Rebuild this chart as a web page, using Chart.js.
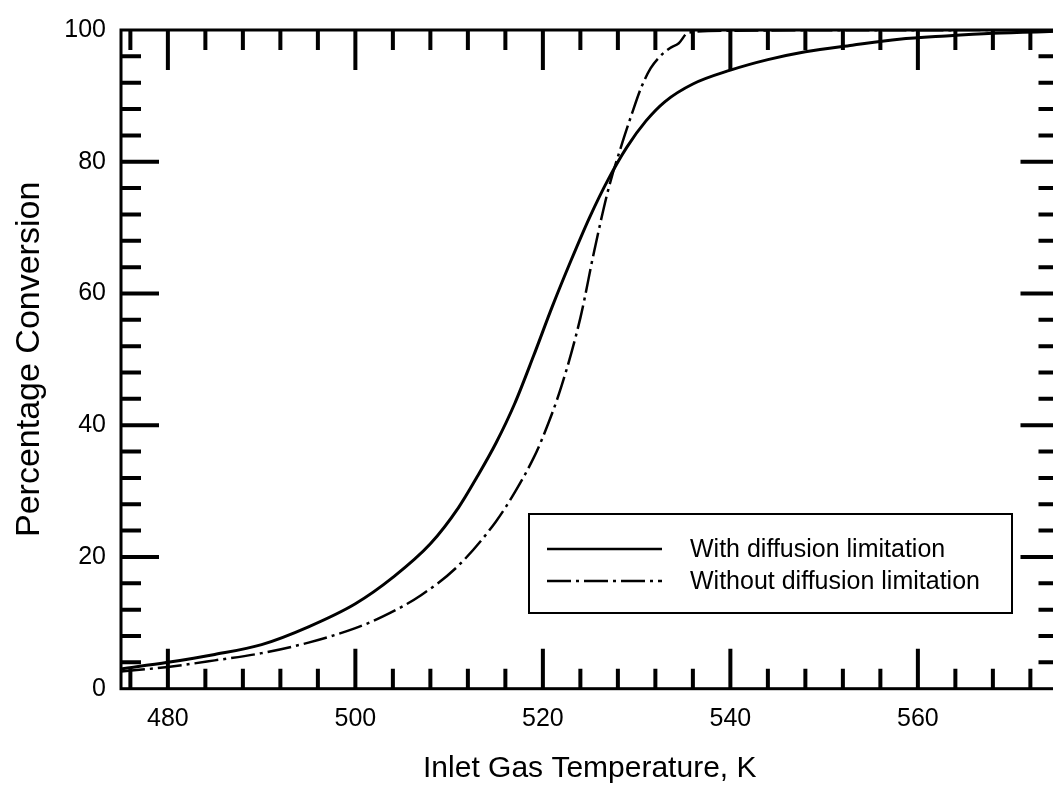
<!DOCTYPE html>
<html>
<head>
<meta charset="utf-8">
<title>Percentage Conversion vs Inlet Gas Temperature</title>
<script src="https://cdn.jsdelivr.net/npm/chart.js@4/dist/chart.umd.min.js"></script>
<style>
	html, body { margin: 0; padding: 0; background: #ffffff; overflow: hidden; }
	#chart-container { width: 1060px; height: 786px; }
</style>
</head>
<body>
<div id="chart-container">
	<canvas id="myChart" width="1060" height="786"></canvas>
</div>
<script>
// values
const tempWith = [475, 480, 485, 490, 495, 500, 504, 508, 511, 513, 515, 517, 519, 521, 523, 525, 527, 529, 531, 533, 536, 540, 544, 548, 553, 558, 563, 568, 575];
const convWith = [3.0, 4.0, 5.2, 6.7, 9.4, 12.9, 16.9, 22.0, 27.5, 32.2, 37.3, 43.3, 50.5, 58.0, 65.0, 71.6, 77.4, 82.3, 86.2, 89.1, 91.8, 93.9, 95.5, 96.7, 97.7, 98.6, 99.1, 99.5, 99.8];

const tempWithout = [475, 480, 485, 490, 495, 500, 503, 507, 511, 515, 517, 519, 520, 522, 524, 525.5, 527, 528.5, 529.5, 530.5, 531.5, 532.5, 533.5, 534.5, 535.5, 540, 575];
const convWithout = [2.6, 3.3, 4.3, 5.4, 7.0, 9.2, 11.0, 14.2, 18.7, 25.4, 29.8, 35.0, 38.2, 46.0, 56.3, 66.6, 75.9, 83.0, 87.3, 91.3, 94.2, 96.0, 97.2, 98.0, 99.6, 99.9, 100];

const seriesLabels = ['With diffusion limitation', 'Without diffusion limitation'];

const xTickLabels = [480, 500, 520, 540, 560];
const yTickLabels = [0, 20, 40, 60, 80, 100];
const xMinorStep = 4;
const yMinorStep = 4;

const FONT = '"Liberation Sans", Arial, Helvetica, sans-serif';

function toPoints(xs, ys) {
	const pts = [];
	for (let i = 0; i < xs.length; i++) {
		pts.push({ x: xs[i], y: ys[i] });
	}
	return pts;
}

// frame with inward ticks on all four sides
const frameTicks = {
	id: 'frameTicks',
	afterDatasetsDraw(chart) {
		const { ctx, chartArea: a, scales: { x, y } } = chart;
		ctx.save();
		ctx.strokeStyle = '#000';
		ctx.lineWidth = 4;
		ctx.beginPath();
		for (let v = x.min + 1; v < x.max; v += xMinorStep) {
			const px = x.getPixelForValue(v);
			const len = xTickLabels.includes(v) ? 40 : 20;
			ctx.moveTo(px, a.bottom); ctx.lineTo(px, a.bottom - len);
			ctx.moveTo(px, a.top); ctx.lineTo(px, a.top + len);
		}
		for (let v = y.min + yMinorStep; v < y.max; v += yMinorStep) {
			const py = y.getPixelForValue(v);
			const len = yTickLabels.includes(v) ? 38 : 20;
			ctx.moveTo(a.left, py); ctx.lineTo(a.left + len, py);
			ctx.moveTo(a.right, py); ctx.lineTo(a.right - len, py);
		}
		ctx.stroke();
		ctx.lineWidth = 3;
		ctx.strokeRect(a.left, a.top, a.right - a.left, a.bottom - a.top);
		ctx.restore();
	}
};

// boxed legend inside the plot
const legendBox = {
	id: 'legendBox',
	afterDraw(chart) {
		const { ctx, chartArea: a } = chart;
		const left = a.left + 408;
		const top = a.top + 484;
		const w = 483;
		const h = 99;
		ctx.save();
		ctx.fillStyle = '#fff';
		ctx.fillRect(left, top, w, h);
		ctx.lineWidth = 2;
		ctx.strokeStyle = '#000';
		ctx.strokeRect(left, top, w, h);
		chart.data.datasets.forEach((ds, i) => {
			const ly = top + 35 + i * 32;
			ctx.setLineDash(ds.borderDash || []);
			ctx.lineWidth = 2.5;
			ctx.beginPath();
			ctx.moveTo(left + 18, ly);
			ctx.lineTo(left + 133, ly);
			ctx.stroke();
			ctx.setLineDash([]);
			ctx.fillStyle = '#000';
			ctx.font = '25px ' + FONT;
			ctx.textBaseline = 'middle';
			ctx.textAlign = 'left';
			ctx.fillText(ds.label, left + 161, ly + 1);
		});
		ctx.restore();
	}
};

const ctx = document.getElementById('myChart').getContext('2d');

const plotData = {
	datasets: [{
		label: seriesLabels[0],
		data: toPoints(tempWith, convWith),
		borderColor: '#000',
		borderWidth: 3,
		pointRadius: 0,
		fill: false,
		cubicInterpolationMode: 'monotone'
	}, {
		label: seriesLabels[1],
		data: toPoints(tempWithout, convWithout),
		borderColor: '#000',
		borderWidth: 2.5,
		borderDash: [24, 5, 3, 5],
		pointRadius: 0,
		fill: false,
		cubicInterpolationMode: 'monotone'
	}]
};

const config = {
	type: 'line',
	data: plotData,
	options: {
		responsive: false,
		animation: false,
		layout: {
			padding: { top: 22, right: 1.5, left: 0, bottom: 0 }
		},
		scales: {
			x: {
				type: 'linear',
				min: 475,
				max: 575,
				grid: { display: false, drawTicks: false },
				border: { display: false },
				afterBuildTicks: (scale) => {
					scale.ticks = xTickLabels.map(v => ({ value: v }));
				},
				afterFit: (scale) => {
					scale.height = 97.3;
				},
				ticks: {
					color: '#000',
					padding: 15,
					maxRotation: 0,
					font: { family: FONT, size: 25 }
				},
				title: {
					display: true,
					text: 'Inlet Gas Temperature, K',
					color: '#000',
					padding: { top: 0, bottom: -1 },
					font: { family: FONT, size: 30 }
				}
			},
			y: {
				min: 0,
				max: 100,
				grid: { display: false, drawTicks: false },
				border: { display: false },
				afterBuildTicks: (scale) => {
					scale.ticks = yTickLabels.map(v => ({ value: v }));
				},
				afterFit: (scale) => {
					scale.width = 121;
				},
				ticks: {
					color: '#000',
					padding: 15,
					font: { family: FONT, size: 25 }
				},
				title: {
					display: true,
					text: 'Percentage Conversion',
					color: '#000',
					padding: { top: 9, bottom: 0 },
					font: { family: FONT, size: 34 }
				}
			}
		},
		plugins: {
			legend: { display: false },
			tooltip: { enabled: false }
		}
	},
	plugins: [frameTicks, legendBox]
};

const myChart = new Chart(ctx, config);
</script>
</body>
</html>
